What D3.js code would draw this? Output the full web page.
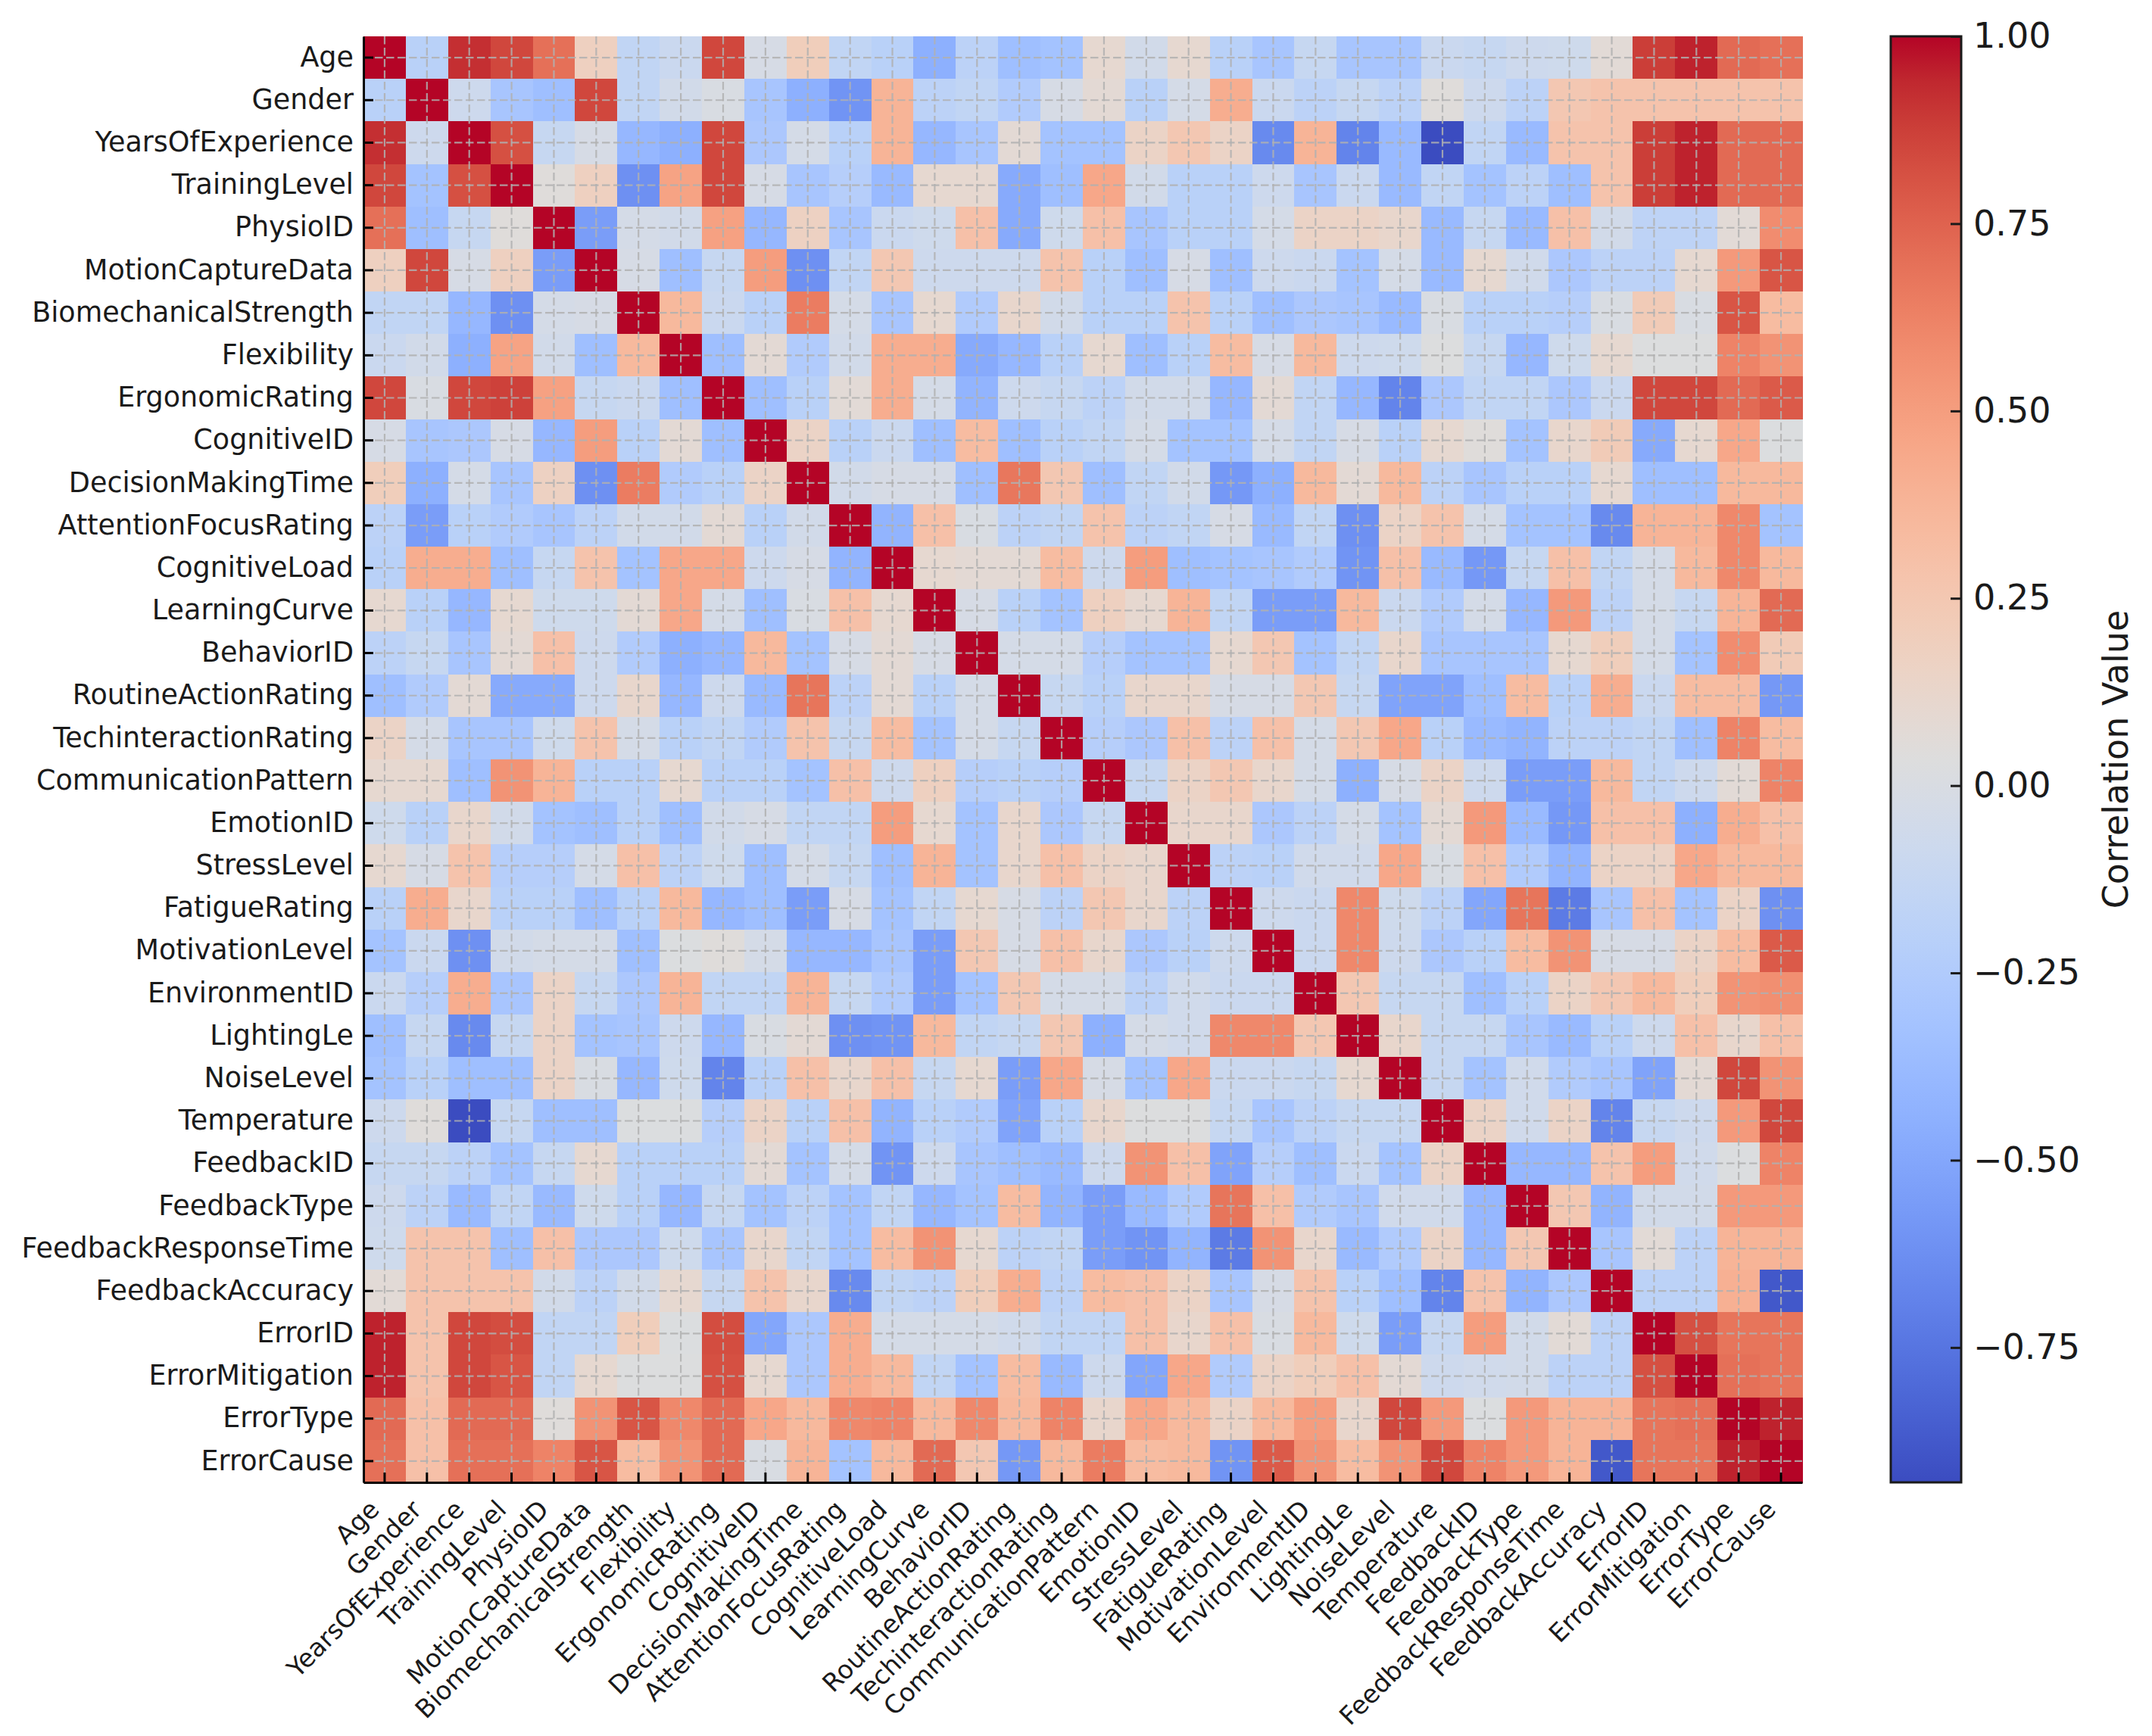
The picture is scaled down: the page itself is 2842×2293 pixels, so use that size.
<!DOCTYPE html>
<html>
<head>
<meta charset="utf-8">
<script src="https://cdn.jsdelivr.net/npm/d3@7"></script>
<style>
  body { margin: 0; background: #fff; }
  text { font-family: "DejaVu Sans", sans-serif; fill: #1a1a1a; }
</style>
</head>
<body>
<script>
//------------------------------DATA------------------------------//
// variables, same order on both axes
const labels = ["Age", "Gender", "YearsOfExperience", "TrainingLevel", "PhysioID",
  "MotionCaptureData", "BiomechanicalStrength", "Flexibility", "ErgonomicRating",
  "CognitiveID", "DecisionMakingTime", "AttentionFocusRating", "CognitiveLoad",
  "LearningCurve", "BehaviorID", "RoutineActionRating", "TechinteractionRating",
  "CommunicationPattern", "EmotionID", "StressLevel", "FatigueRating",
  "MotivationLevel", "EnvironmentID", "LightingLe", "NoiseLevel", "Temperature",
  "FeedbackID", "FeedbackType", "FeedbackResponseTime", "FeedbackAccuracy",
  "ErrorID", "ErrorMitigation", "ErrorType", "ErrorCause"];

// correlation values, one row per variable
const corr = [
  [1, -0.2, 0.92, 0.85, 0.7, 0.18, -0.15, -0.1, 0.85, -0.02, 0.2, -0.15, -0.2, -0.45, -0.18, -0.35, -0.32, 0.1, -0.05, 0.1, -0.2, -0.3, -0.12, -0.3, -0.3, -0.1, -0.12, -0.08, -0.07, 0.07, 0.88, 0.95, 0.72, 0.7],
  [-0.2, 1, -0.08, -0.3, -0.35, 0.85, -0.15, -0.05, 0, -0.3, -0.45, -0.6, 0.38, -0.18, -0.15, -0.25, -0.02, 0.08, -0.2, -0.03, 0.42, -0.1, -0.18, -0.12, -0.18, 0.05, -0.08, -0.18, 0.25, 0.28, 0.28, 0.28, 0.28, 0.28],
  [0.92, -0.08, 1, 0.82, -0.12, -0.02, -0.4, -0.45, 0.85, -0.28, -0.03, -0.2, 0.38, -0.4, -0.3, 0.08, -0.32, -0.32, 0.15, 0.25, 0.15, -0.65, 0.38, -0.68, -0.38, -0.93, -0.15, -0.38, 0.28, 0.28, 0.88, 0.95, 0.72, 0.72],
  [0.85, -0.32, 0.82, 1, 0.05, 0.18, -0.62, 0.47, 0.85, -0.02, -0.3, -0.22, -0.38, 0.1, 0.1, -0.48, -0.35, 0.45, -0.05, -0.2, -0.2, -0.08, -0.3, -0.1, -0.38, -0.15, -0.32, -0.18, -0.35, 0.28, 0.88, 0.95, 0.72, 0.72],
  [0.7, -0.35, -0.12, 0.05, 1, -0.55, -0.03, -0.05, 0.48, -0.4, 0.17, -0.3, -0.1, -0.07, 0.3, -0.48, -0.07, 0.3, -0.3, -0.2, -0.2, -0.03, 0.15, 0.15, 0.12, -0.38, -0.12, -0.38, 0.3, -0.05, -0.17, -0.17, 0.07, 0.58],
  [0.18, 0.85, -0.02, 0.18, -0.55, 1, -0.02, -0.35, -0.12, 0.5, -0.62, -0.15, 0.25, -0.08, -0.08, -0.08, 0.28, -0.2, -0.35, -0.02, -0.35, -0.08, -0.1, -0.32, -0.03, -0.38, 0.1, -0.06, -0.28, -0.18, -0.18, 0.1, 0.52, 0.8],
  [-0.15, -0.15, -0.4, -0.62, -0.03, -0.02, 1, 0.35, -0.1, -0.2, 0.65, -0.03, -0.3, 0.1, -0.25, 0.12, -0.05, -0.2, -0.2, 0.28, -0.2, -0.35, -0.28, -0.3, -0.38, 0, -0.2, -0.2, -0.22, 0, 0.22, 0, 0.8, 0.33],
  [-0.1, -0.05, -0.45, 0.47, -0.05, -0.35, 0.35, 1, -0.35, 0.08, -0.25, -0.05, 0.42, 0.42, -0.48, -0.4, -0.2, 0.1, -0.35, -0.2, 0.33, -0.02, 0.35, -0.08, -0.07, 0.03, -0.12, -0.4, -0.07, 0.1, 0.03, 0.03, 0.62, 0.55],
  [0.85, 0, 0.85, 0.87, 0.48, -0.12, -0.1, -0.35, 1, -0.35, -0.2, 0.07, 0.42, -0.03, -0.42, -0.08, -0.12, -0.18, -0.05, -0.05, -0.4, 0.08, -0.15, -0.4, -0.68, -0.28, -0.15, -0.15, -0.28, -0.1, 0.85, 0.85, 0.72, 0.78],
  [-0.02, -0.3, -0.28, -0.02, -0.4, 0.5, -0.2, 0.08, -0.35, 1, 0.15, -0.2, -0.1, -0.35, 0.33, -0.35, -0.2, -0.15, -0.03, -0.32, -0.32, -0.03, -0.15, -0.02, -0.2, 0.1, 0.05, -0.32, 0.12, 0.22, -0.48, 0.1, 0.45, 0.02],
  [0.2, -0.45, -0.03, -0.3, 0.17, -0.62, 0.65, -0.25, -0.2, 0.15, 1, -0.05, -0.02, -0.02, -0.35, 0.67, 0.25, -0.35, -0.15, -0.05, -0.58, -0.45, 0.35, 0.08, 0.35, -0.18, -0.3, -0.2, -0.2, 0.1, -0.35, -0.35, 0.35, 0.35],
  [-0.18, -0.55, -0.2, -0.25, -0.3, -0.18, -0.05, -0.05, 0.08, -0.2, -0.05, 1, -0.42, 0.3, 0, -0.18, -0.15, 0.28, -0.18, -0.15, -0.02, -0.38, -0.15, -0.62, 0.15, 0.28, -0.03, -0.32, -0.32, -0.65, 0.38, 0.38, 0.6, -0.32],
  [-0.2, 0.42, 0.42, -0.35, -0.12, 0.28, -0.32, 0.45, 0.45, -0.08, -0.02, -0.42, 1, 0.1, 0.08, 0.08, 0.33, -0.08, 0.5, -0.35, -0.32, -0.3, -0.25, -0.6, 0.3, -0.38, -0.58, -0.12, 0.3, -0.15, -0.03, 0.35, 0.6, 0.35],
  [0.1, -0.2, -0.4, 0.1, -0.07, -0.07, 0.08, 0.45, -0.03, -0.35, 0, 0.3, 0.1, 1, -0.02, -0.2, -0.32, 0.18, 0.1, 0.38, -0.15, -0.55, -0.55, 0.35, -0.1, -0.25, -0.03, -0.4, 0.52, -0.18, -0.03, -0.12, 0.38, 0.72],
  [-0.18, -0.12, -0.3, 0.08, 0.3, -0.08, -0.25, -0.45, -0.4, 0.35, -0.32, -0.02, 0.08, -0.02, 1, -0.03, -0.03, -0.22, -0.32, -0.32, 0.1, 0.25, -0.32, -0.15, 0.12, -0.3, -0.3, -0.3, 0.1, 0.2, -0.03, -0.32, 0.58, 0.22],
  [-0.35, -0.25, 0.08, -0.48, -0.48, -0.08, 0.12, -0.4, -0.08, -0.38, 0.68, -0.18, 0.08, -0.2, -0.03, 1, -0.12, -0.2, 0.12, 0.12, -0.02, -0.02, 0.25, -0.12, -0.52, -0.52, -0.35, 0.33, -0.2, 0.42, -0.1, 0.33, 0.33, -0.58],
  [0.15, -0.03, -0.3, -0.3, -0.07, 0.28, -0.03, -0.2, -0.15, -0.25, 0.28, -0.12, 0.33, -0.32, -0.03, -0.12, 1, -0.22, -0.28, 0.3, -0.18, 0.3, -0.03, 0.25, 0.45, -0.2, -0.38, -0.42, -0.18, -0.18, -0.15, -0.35, 0.62, 0.33],
  [0.1, 0.1, -0.35, 0.55, 0.38, -0.2, -0.2, 0.1, -0.2, -0.2, -0.32, 0.3, -0.08, 0.18, -0.22, -0.2, -0.22, 1, -0.12, 0.15, 0.25, 0.12, -0.03, -0.45, -0.02, 0.15, -0.08, -0.55, -0.55, 0.35, -0.15, -0.08, 0.07, 0.62],
  [-0.07, -0.2, 0.12, -0.05, -0.32, -0.35, -0.2, -0.35, -0.05, -0.02, -0.15, -0.15, 0.5, 0.1, -0.32, 0.12, -0.28, -0.12, 1, 0.12, 0.12, -0.28, -0.18, -0.03, -0.32, 0.08, 0.52, -0.38, -0.58, 0.3, 0.3, -0.45, 0.42, 0.3],
  [0.1, -0.02, 0.28, -0.22, -0.22, -0.03, 0.3, -0.18, -0.07, -0.35, -0.03, -0.12, -0.35, 0.38, -0.32, 0.12, 0.3, 0.15, 0.12, 1, -0.18, -0.2, -0.06, -0.06, 0.45, 0, 0.3, -0.25, -0.42, 0.15, 0.15, 0.45, 0.35, 0.35],
  [-0.2, 0.42, 0.12, -0.2, -0.2, -0.35, -0.2, 0.35, -0.4, -0.35, -0.55, -0.02, -0.32, -0.15, 0.1, -0.02, -0.18, 0.25, 0.12, -0.18, 1, -0.08, -0.1, 0.6, -0.07, -0.18, -0.5, 0.68, -0.72, -0.3, 0.3, -0.32, 0.15, -0.62],
  [-0.32, -0.1, -0.62, -0.05, -0.03, -0.03, -0.35, 0.02, 0.05, -0.03, -0.4, -0.4, -0.3, -0.55, 0.25, -0.02, 0.3, 0.12, -0.28, -0.2, -0.08, 1, -0.1, 0.6, -0.08, -0.28, -0.2, 0.33, 0.55, -0.02, -0.02, 0.15, 0.33, 0.78],
  [-0.1, -0.22, 0.42, -0.3, 0.15, -0.12, -0.28, 0.38, -0.15, -0.15, 0.38, -0.12, -0.25, -0.55, -0.32, 0.25, -0.03, -0.03, -0.18, -0.06, -0.1, -0.1, 1, 0.25, -0.12, -0.12, -0.35, -0.2, 0.15, 0.25, 0.35, 0.2, 0.55, 0.57],
  [-0.35, -0.12, -0.65, -0.12, 0.15, -0.32, -0.3, -0.08, -0.4, 0, 0.08, -0.62, -0.6, 0.35, -0.15, -0.12, 0.25, -0.45, -0.03, -0.06, 0.6, 0.6, 0.25, 1, 0.12, -0.12, -0.12, -0.3, -0.38, -0.2, -0.08, 0.3, 0.12, 0.3],
  [-0.32, -0.2, -0.35, -0.35, 0.15, 0, -0.4, -0.07, -0.68, -0.2, 0.3, 0.12, 0.3, -0.12, 0.1, -0.55, 0.45, -0.02, -0.32, 0.45, -0.1, -0.1, -0.12, 0.1, 1, -0.12, -0.32, -0.06, -0.25, -0.3, -0.52, 0.08, 0.85, 0.55],
  [-0.08, 0.05, -0.93, -0.12, -0.35, -0.35, 0.02, 0.02, -0.22, 0.15, -0.2, 0.3, -0.42, -0.2, -0.25, -0.52, -0.2, 0.12, 0.03, 0.03, -0.12, -0.3, -0.18, -0.12, -0.12, 1, 0.15, -0.06, 0.15, -0.68, -0.12, -0.08, 0.52, 0.85],
  [-0.12, -0.12, -0.18, -0.32, -0.12, 0.1, -0.2, -0.2, -0.2, 0.08, -0.32, -0.03, -0.6, -0.08, -0.3, -0.35, -0.38, -0.08, 0.55, 0.3, -0.52, -0.22, -0.35, -0.1, -0.32, 0.15, 1, -0.4, -0.4, 0.28, 0.5, -0.06, 0.02, 0.62],
  [-0.08, -0.18, -0.38, -0.15, -0.38, -0.07, -0.2, -0.4, -0.12, -0.32, -0.18, -0.32, -0.15, -0.4, -0.32, 0.33, -0.42, -0.55, -0.38, -0.25, 0.68, 0.3, -0.25, -0.3, -0.06, -0.06, -0.4, 1, 0.25, -0.42, -0.05, -0.05, 0.52, 0.52],
  [-0.07, 0.28, 0.28, -0.35, 0.3, -0.28, -0.28, -0.07, -0.3, 0.12, -0.15, -0.32, 0.33, 0.55, 0.1, -0.18, -0.15, -0.55, -0.6, -0.42, -0.72, 0.55, 0.12, -0.38, -0.25, 0.15, -0.4, 0.25, 1, -0.3, 0.07, -0.18, 0.38, 0.38],
  [0.07, 0.28, 0.28, 0.28, -0.05, -0.18, -0.05, 0.1, -0.12, 0.28, 0.12, -0.65, -0.15, -0.18, 0.2, 0.42, -0.18, 0.33, 0.3, 0.15, -0.3, -0.02, 0.28, -0.2, -0.35, -0.68, 0.28, -0.42, -0.28, 1, -0.18, -0.18, 0.4, -0.88],
  [0.95, 0.28, 0.85, 0.83, -0.15, -0.15, 0.2, 0.02, 0.83, -0.5, -0.28, 0.42, -0.03, -0.03, -0.03, -0.06, -0.15, -0.15, 0.3, 0.12, 0.3, 0, 0.35, -0.07, -0.55, -0.12, 0.5, -0.05, 0.07, -0.18, 1, 0.82, 0.68, 0.68],
  [0.95, 0.28, 0.85, 0.8, -0.15, 0.1, 0.03, 0.03, 0.82, 0.1, -0.28, 0.42, 0.35, -0.15, -0.32, 0.33, -0.38, -0.08, -0.5, 0.45, -0.25, 0.15, 0.2, 0.3, 0.08, -0.08, -0.06, -0.05, -0.18, -0.18, 0.82, 1, 0.7, 0.68],
  [0.72, 0.3, 0.72, 0.72, 0.05, 0.55, 0.8, 0.6, 0.72, 0.45, 0.35, 0.6, 0.62, 0.35, 0.6, 0.35, 0.62, 0.12, 0.45, 0.35, 0.15, 0.35, 0.5, 0.12, 0.85, 0.52, 0.02, 0.52, 0.38, 0.38, 0.68, 0.7, 1, 0.95],
  [0.7, 0.3, 0.7, 0.7, 0.62, 0.8, 0.33, 0.55, 0.72, 0, 0.38, -0.32, 0.35, 0.72, 0.25, -0.58, 0.35, 0.65, 0.33, 0.35, -0.6, 0.78, 0.55, 0.33, 0.55, 0.85, 0.62, 0.52, 0.38, -0.88, 0.68, 0.68, 0.95, 1]
];

// colour bar ticks
const cbarTicks = [1, 0.75, 0.5, 0.25, 0, -0.25, -0.5, -0.75];

// matplotlib "coolwarm", 33 stops from blue to red
const coolwarm = [
  "#3b4cc0", "#445acc", "#4d68d7", "#5775e1", "#6282ea", "#6c8ef1", "#779af7", "#82a5fb",
  "#8db0fe", "#98b9ff", "#a3c2ff", "#aec9fd", "#b8d0f9", "#c2d5f4", "#ccd9ee", "#d5dbe6",
  "#dddddd", "#e5d8d1", "#ecd3c5", "#f1ccb8", "#f5c4ad", "#f7bba0", "#f7b194", "#f7a687",
  "#f49a7b", "#f18d6f", "#ec7f63", "#e57058", "#de604d", "#d55042", "#cb3e38", "#c0282f",
  "#b40426"];

//--------------------------PREPARATION---------------------------//
const width = 2842, height = 2293;
const plotLeft = 480, plotTop = 48, plotW = 1900, plotH = 1910;
const cbLeft = 2497, cbW = 93;

const svg = d3.select("body").append("svg")
  .attr("width", width)
  .attr("height", height)
  .style("display", "block");

const x = d3.scaleBand().domain(labels).range([plotLeft, plotLeft + plotW]);
const y = d3.scaleBand().domain(labels).range([plotTop, plotTop + plotH]);

const vmin = d3.min(corr, r => d3.min(r));
const vmax = d3.max(corr, r => d3.max(r));
const color = d3.scaleSequential(d3.piecewise(d3.interpolateRgb, coolwarm))
  .domain([vmin, vmax]);

const cells = corr.flatMap((row, i) => row.map((v, j) => ({row: labels[i], col: labels[j], v: v})));

//-----------------------------CELLS------------------------------//
svg.append("g")
  .attr("id", "cells")
  .attr("shape-rendering", "crispEdges")
  .selectAll("rect")
  .data(cells)
  .join("rect")
    .attr("x", d => x(d.col))
    .attr("y", d => y(d.row))
    .attr("width", x.bandwidth() + 0.6)
    .attr("height", y.bandwidth() + 0.6)
    .attr("fill", d => color(d.v));

// dashed grid through the cell centres
const grid = svg.append("g")
  .attr("id", "grid")
  .attr("stroke", "#b0b0b0")
  .attr("stroke-width", 2.2)
  .attr("stroke-dasharray", "10.5,4.5")
  .attr("stroke-opacity", 0.85);
grid.selectAll("line.v")
  .data(labels)
  .join("line")
    .attr("class", "v")
    .attr("x1", d => x(d) + x.bandwidth() / 2)
    .attr("x2", d => x(d) + x.bandwidth() / 2)
    .attr("y1", plotTop)
    .attr("y2", plotTop + plotH);
grid.selectAll("line.h")
  .data(labels)
  .join("line")
    .attr("class", "h")
    .attr("y1", d => y(d) + y.bandwidth() / 2)
    .attr("y2", d => y(d) + y.bandwidth() / 2)
    .attr("x1", plotLeft)
    .attr("x2", plotLeft + plotW);

//------------------------------AXES------------------------------//
const yAxis = svg.append("g")
  .attr("id", "y-axis")
  .attr("transform", "translate(" + plotLeft + ",0)")
  .call(d3.axisLeft(y).tickSize(-13).tickSizeOuter(0).tickPadding(13));

const xAxis = svg.append("g")
  .attr("id", "x-axis")
  .attr("transform", "translate(0," + (plotTop + plotH) + ")")
  .call(d3.axisBottom(x).tickSize(-13).tickSizeOuter(0).tickPadding(13));

xAxis.selectAll("text")
  .attr("x", null)
  .attr("y", null)
  .attr("dy", null)
  .attr("text-anchor", "end")
  .attr("transform", "translate(-5,38) rotate(-45)");

yAxis.selectAll("text").style("font-size", "36.5px");
xAxis.selectAll("text").style("font-size", "33.5px");

[xAxis, yAxis].forEach(ax => {
  ax.selectAll("text").attr("fill", "#1a1a1a");
  ax.selectAll(".tick line").attr("stroke", "#000").attr("stroke-width", 3);
  ax.select(".domain").attr("stroke", "#000").attr("stroke-width", 3);
});

//---------------------------COLOUR BAR---------------------------//
const defs = svg.append("defs");
const grad = defs.append("linearGradient")
  .attr("id", "cbar-grad")
  .attr("x1", 0).attr("y1", 1).attr("x2", 0).attr("y2", 0);
grad.selectAll("stop")
  .data(coolwarm)
  .join("stop")
    .attr("offset", (d, i) => i / (coolwarm.length - 1))
    .attr("stop-color", d => d);

svg.append("rect")
  .attr("x", cbLeft)
  .attr("y", plotTop)
  .attr("width", cbW)
  .attr("height", plotH)
  .attr("fill", "url(#cbar-grad)");

const cbScale = d3.scaleLinear().domain([vmin, vmax]).range([plotTop + plotH, plotTop]);

const cbAxis = svg.append("g")
  .attr("id", "cbar-axis")
  .attr("transform", "translate(" + (cbLeft + cbW) + ",0)")
  .call(d3.axisRight(cbScale).tickValues(cbarTicks).tickFormat(d3.format(".2f"))
    .tickSize(-14).tickSizeOuter(0).tickPadding(16));
cbAxis.select(".domain").remove();
cbAxis.selectAll(".tick line").attr("stroke", "#1a1a1a").attr("stroke-width", 3);
cbAxis.selectAll("text").style("font-size", "46px").attr("fill", "#1a1a1a");

svg.append("rect")
  .attr("x", cbLeft)
  .attr("y", plotTop)
  .attr("width", cbW)
  .attr("height", plotH)
  .attr("fill", "none")
  .attr("stroke", "#1a1a1a")
  .attr("stroke-width", 3);

svg.append("text")
  .attr("transform", "translate(2810," + (plotTop + plotH / 2) + ") rotate(-90)")
  .attr("text-anchor", "middle")
  .style("font-size", "46px")
  .text("Correlation Value");
</script>
</body>
</html>
